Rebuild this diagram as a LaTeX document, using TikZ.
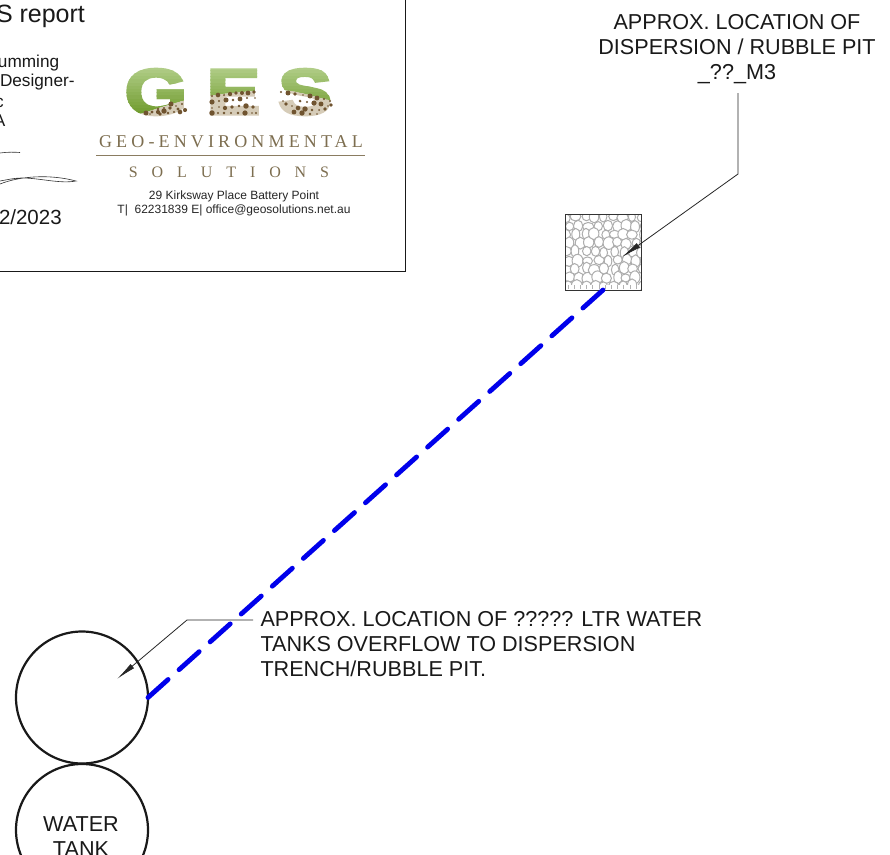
\documentclass[tikz,border=0pt]{standalone}
\usepackage{fontspec}
\setmainfont{Liberation Sans}
\newfontfamily\logoserif[LetterSpace=23]{Liberation Serif}
\newfontfamily\logowide[LetterSpace=87]{Liberation Serif}
\newfontfamily\gesfont[FakeBold=4]{Liberation Sans Bold}
\usetikzlibrary{arrows.meta}
\definecolor{blueline}{RGB}{0,0,235}
\definecolor{gesbrown}{RGB}{125,110,80}
\definecolor{pebble}{RGB}{112,84,48}
\definecolor{pebblebg}{RGB}{214,204,184}
\definecolor{topg}{RGB}{176,205,135}
\definecolor{botg}{RGB}{108,152,40}
\newcommand{\fs}[1]{\fontsize{#1}{#1}\selectfont}
\newcommand{\gesletters}[1]{%
  \node[gesletter,#1] at (156,92) {G};
  \node[gesletter,#1] at (233.5,92) {E};
  \node[gesletter,#1] at (305,92) {S};}
\tikzset{
  lbl/.style={inner sep=0pt,outer sep=0pt,align=center,text=black!90,font=\fs{21.6}},
  boxtxt/.style={anchor=base west,inner sep=0pt,outer sep=0pt,text=black!90},
  tankshape/.style={circle,draw=black!90,line width=2.2pt,minimum size=132pt,inner sep=0pt,outer sep=0pt},
  leader/.style={draw=black!85,line width=.8pt},
  leadertip/.style={-{Latex[length=20pt,width=5.5pt]}},
  overflow/.style={draw=blueline,line width=4.8pt,line cap=round,dash pattern=on 27pt off 14.7pt},
  gesletter/.style={inner sep=0pt,outer sep=0pt,anchor=center,transform shape,xscale=1.24,font=\gesfont\fs{65}},
  addr/.style={inner sep=0pt,outer sep=0pt,anchor=base,text=black!85,font=\fs{12}},
}
\begin{document}
\begin{tikzpicture}[x=1pt,y=-1pt]
\useasboundingbox (0,0) rectangle (890,854);
\fill[white] (0,0) rectangle (890,854);
% report box
\coordinate (boxtr) at (405.5,-5);
\coordinate (boxbr) at (405.5,271);
\coordinate (boxbl) at (-5,271);
\draw[black!90,line width=1pt] (boxtr) -- (boxbr) -- (boxbl);
\node[boxtxt,font=\fs{25}] (t1) at (-4,22) {S report};
\node[boxtxt,font=\fs{17.2}] (t2) at (-2,67) {umming};
\node[boxtxt,font=\fs{17.2}] (t3) at (0,86) {Designer-};
\node[boxtxt,font=\fs{17.2}] (t4) at (-5,107) {c};
\node[boxtxt,font=\fs{17.2}] (t5) at (-6,126) {A};
\node[boxtxt,font=\fs{20.5}] (t6) at (-1,224) {2/2023};
% signature
\draw[black!80,line width=.6pt] (0,153) .. controls (8,152) and (14,152) .. (20,152.5);
\draw[black!80,line width=.6pt] (0,184) .. controls (20,176) and (50,174) .. (76,181)
   .. controls (60,184) and (40,178) .. (22,178) .. controls (14,178) and (6,180) .. (0,181);
% logo letters: gradient in bands
\begin{scope}
  \clip (120,60) -- (345,60) -- (345,103) .. controls (320,100) and (300,90) .. (277,90)
        -- (258,91) .. controls (235,92) and (215,95) .. (200,97) .. controls (175,102) and (160,108) .. (140,114) -- (120,116) -- cycle;
  \foreach \k in {0,...,15}{
    \pgfmathsetmacro{\mixv}{100-\k*6.6}
    \begin{scope}
      \clip (120,{67+\k*3.2}) rectangle (345,{67+(\k+1)*3.2+.3});
      \gesletters{text=topg!\mixv!botg}
    \end{scope}}
\end{scope}
\begin{scope}
  \clip (120,118) -- (345,118) -- (345,103) .. controls (320,100) and (300,90) .. (277,90)
        -- (258,91) .. controls (235,92) and (215,95) .. (200,97) .. controls (175,102) and (160,108) .. (140,114) -- (120,116) -- cycle;
  \gesletters{text=pebblebg}
\end{scope}
% pebbles
\pgfmathsetseed{17}
\foreach \cx/\cy in {146/113,152/112,158/112,164/111,170/108,176/106,182/104,150/114,160/114,168/113,174/112,180/112,185/110,178/109,171/104,164/108,158/109,
 212/96,218/95,224/95,230/94,236/93,242/93,248/93,254/92,212/102,219/101,226/100,233/100,240/99,247/98,255/98,212/108,219/107,225/108,232/107,239/106,246/106,253/107,212/113,218/113,224/113,231/113,238/113,245/113,252/113,256/113,
 281/92,288/93,295/94,303/95,310/96,317/98,324/99,330/101,300/101,307/102,314/103,321/104,328/106,286/104,292/106,298/108,305/109,312/110,319/110,325/109,331/105,294/112,302/113,310/114,317/114,283/101}{
  \pgfmathsetmacro{\rr}{0.8+2.0*rnd}
  \fill[pebble] (\cx,\cy) circle (\rr);}
% logo wording
\node[inner sep=0pt,anchor=base,text=gesbrown,font=\logoserif\fs{18}] (geo) at (231,147) {GEO-ENVIRONMENTAL};
\coordinate (rulel) at (96,155.5);
\coordinate (ruler) at (365,155.5);
\draw[gesbrown!90,line width=1pt] (rulel) -- (ruler);
\node[inner sep=0pt,anchor=base,text=gesbrown,font=\logowide\fs{16}] (sol) at (229,177) {SOLUTIONS};
\node[addr] (a1) at (234,199) {29 Kirksway Place Battery Point};
\node[addr] (a2) at (234,213) {T|\ \ 62231839 E| office@geosolutions.net.au};
% rubble pit
\node[minimum size=76pt,inner sep=0pt,outer sep=0pt] (pit) at (603,252) {};
\begin{scope}
  \clip (pit.north west) rectangle (pit.south east);
  \fill[white] (pit.north west) rectangle (pit.south east);
  \pgfmathsetseed{5}
  \foreach \i in {0,...,8}{
    \foreach \j in {0,...,8}{
      \pgfmathsetmacro{\px}{565+\i*9.5+3*rnd+mod(\j,2)*3}
      \pgfmathsetmacro{\py}{216+\j*8.6+2.5*rnd}
      \pgfmathsetmacro{\ra}{3.6+2.4*rnd}
      \pgfmathsetmacro{\rb}{4+2.4*rnd}
      \filldraw[fill=white,draw=black!32,line width=1pt] (\px,\py) ellipse ({\ra} and {\rb});
    }}
  \fill[white] (566,285) rectangle (640,289.5);
  \foreach \i in {0,...,11}{\draw[black!30,line width=.7pt] ({568+\i*6.2},285) -- ++(0,4);}
\end{scope}
\node[draw=black!80,line width=1pt,minimum size=76pt,inner sep=0pt,outer sep=0pt] (pitframe) at (603,252) {};
% top label
\node[lbl,anchor=base] (toplabel) at (737,79) {APPROX. LOCATION OF\\[3pt]DISPERSION / RUBBLE PIT\\[3pt]\_??\_M3};
\coordinate (topelbow) at (738,174);
\coordinate (topstart) at (738,93);
\coordinate (toptip) at (622,257);
\draw[leader,leadertip] (topstart) -- (topelbow) -- (toptip);
% tanks
\node[tankshape] (tank1) at (82,697.5) {};
\node[tankshape] (tank2) at (82,830) {};
\node[lbl,anchor=base] (tanktext) at (81,856) {WATER\\[3pt]TANK};
% overflow
\draw[overflow] (tank1.east) -- (pit.south);
% lower label
\node[lbl,anchor=base west,align=left] (lowlabel) at (260.5,676) {APPROX. LOCATION OF ????? LTR WATER\\[3pt]TANKS OVERFLOW TO DISPERSION\\[3pt]TRENCH/RUBBLE PIT.};
\coordinate (lowstart) at (253,620);
\coordinate (lowelbow) at (187,620);
\coordinate (lowtip) at (117,679);
\draw[leader,leadertip] (lowstart) -- (lowelbow) -- (lowtip);
\end{tikzpicture}
\end{document}
